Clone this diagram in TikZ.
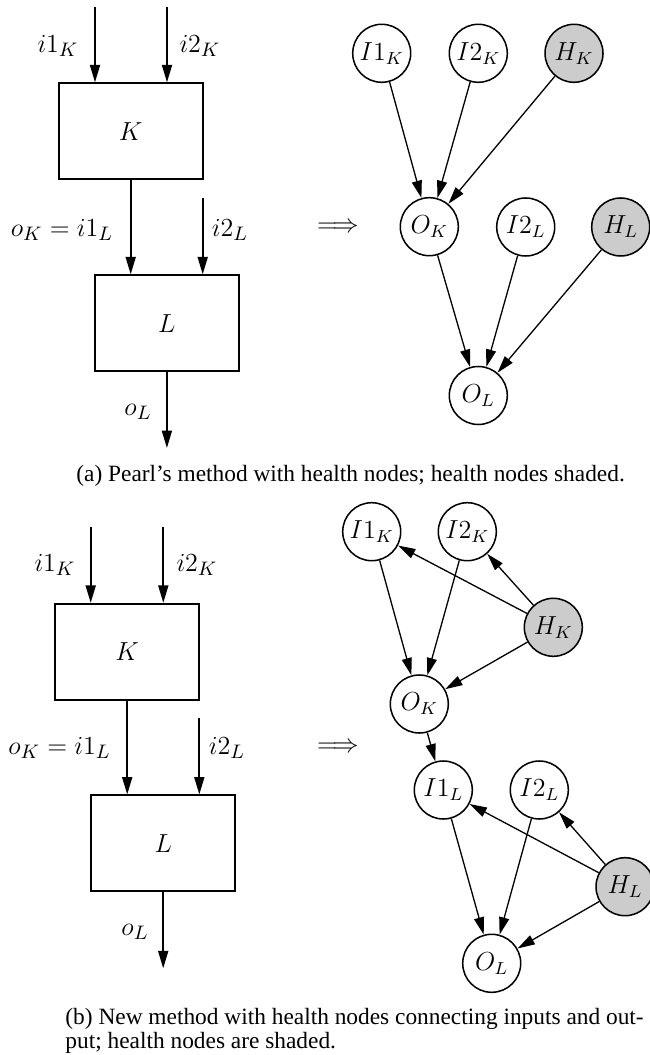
\documentclass[tikz,border=0pt]{standalone}
\usepackage{fontspec}
\setmainfont{Liberation Serif}
\usetikzlibrary{arrows.meta}
\def\px{0.46pt}
\tikzset{
  x=0.46pt, y=-0.46pt,
  tip/.tip={Triangle[length=8pt,width=4.6pt]},
  flow/.style={line width=0.8pt,-tip},
  edge/.style={line width=0.6pt,-tip},
  block/.style={draw,line width=0.8pt,minimum width=144*\px,minimum height=96*\px,inner sep=0pt,font=\fontsize{12}{14}\selectfont},
  var/.style={circle,draw,line width=0.7pt,minimum size=58*\px,inner sep=0pt,fill=white,font=\fontsize{12}{14}\selectfont},
  health/.style={var,fill=gray!40},
  lbl/.style={inner sep=0pt,font=\fontsize{12.5}{14}\selectfont},
  impl/.style={inner sep=0pt,font=\fontsize{11.5}{14}\selectfont},
  captext/.style={inner sep=0pt,anchor=base west,font=\fontsize{10.75}{12}\selectfont}
}
\begin{document}
\begin{tikzpicture}
\useasboundingbox (0,0) rectangle (649,1055);

% ---------- (a) block diagram ----------
\node[block] (aK) at (130.7,131.2) {$K$};
\node[block] (aL) at (166.9,323.2) {$L$};
\coordinate (aIn1) at (95,7);
\coordinate (aIn2) at (167,7);
\coordinate (aIn2L) at (202.7,198);
\coordinate (aOut) at (166.9,448);
\draw[flow] (aIn1) -- (aIn1 |- aK.north);
\draw[flow] (aIn2) -- (aIn2 |- aK.north);
\draw[flow] (aK.south) -- (aK.south |- aL.north);
\draw[flow] (aIn2L) -- (aIn2L |- aL.north);
\draw[flow] (aL.south) -- (aOut);
\node[lbl] (aLi1K) at (58,46) {$i1_K$};
\node[lbl] (aLi2K) at (200,46) {$i2_K$};
\node[lbl] (aLoK) at (62,230) {$o_K = i1_L$};
\node[lbl] (aLi2L) at (230,230) {$i2_L$};
\node[lbl] (aLoL) at (138,412) {$o_L$};
\node[impl] (aImp) at (338,228) {$\Longrightarrow$};

% ---------- (a) network ----------
\node[var] (aI1K) at (381.7,53.3) {$I1_K$};
\node[var] (aI2K) at (478.3,53.3) {$I2_K$};
\node[health] (aHK) at (574,53.3) {$H_K$};
\node[var] (aOK) at (429.3,226.7) {$O_K$};
\node[var] (aI2L) at (525.7,227) {$I2_L$};
\node[health] (aHL) at (620.7,227) {$H_L$};
\node[var] (aOL) at (478.3,395.5) {$O_L$};
\draw[edge] (aI1K) -- (aOK);
\draw[edge] (aI2K) -- (aOK);
\draw[edge] (aHK) -- (aOK);
\draw[edge] (aOK) -- (aOL);
\draw[edge] (aI2L) -- (aOL);
\draw[edge] (aHL) -- (aOL);

\node[captext] (capA) at (76,481.5) {(a) Pearl's method with health nodes; health nodes shaded.};

% ---------- (b) block diagram ----------
\node[block] (bK) at (127.2,651.7) {$K$};
\node[block] (bL) at (163.2,843.3) {$L$};
\coordinate (bIn1) at (90.7,526.7);
\coordinate (bIn2) at (163.3,526.7);
\coordinate (bIn2L) at (199.3,718.3);
\coordinate (bOut) at (163.2,968.3);
\draw[flow] (bIn1) -- (bIn1 |- bK.north);
\draw[flow] (bIn2) -- (bIn2 |- bK.north);
\draw[flow] (bK.south) -- (bK.south |- bL.north);
\draw[flow] (bIn2L) -- (bIn2L |- bL.north);
\draw[flow] (bL.south) -- (bOut);
\node[lbl] (bLi1K) at (55,565) {$i1_K$};
\node[lbl] (bLi2K) at (197,565) {$i2_K$};
\node[lbl] (bLoK) at (59.5,748) {$o_K = i1_L$};
\node[lbl] (bLi2L) at (227,748) {$i2_L$};
\node[lbl] (bLoL) at (135,931.7) {$o_L$};
\node[impl] (bImp) at (338,748) {$\Longrightarrow$};

% ---------- (b) network ----------
\node[var] (bI1K) at (371.7,531.7) {$I1_K$};
\node[var] (bI2K) at (467.3,531.7) {$I2_K$};
\node[health] (bHK) at (553.3,627.3) {$H_K$};
\node[var] (bOK) at (419.3,704) {$O_K$};
\node[var] (bI1L) at (443.3,790) {$I1_L$};
\node[var] (bI2L) at (539.3,790) {$I2_L$};
\node[health] (bHL) at (625,886.7) {$H_L$};
\node[var] (bOL) at (491.7,963.3) {$O_L$};
\draw[edge] (bI1K) -- (bOK);
\draw[edge] (bI2K) -- (bOK);
\draw[edge] (bHK) -- (bI1K);
\draw[edge] (bHK) -- (bI2K);
\draw[edge] (bHK) -- (bOK);
\draw[edge] (bOK) -- (bI1L);
\draw[edge] (bI1L) -- (bOL);
\draw[edge] (bI2L) -- (bOL);
\draw[edge] (bHL) -- (bI1L);
\draw[edge] (bHL) -- (bI2L);
\draw[edge] (bHL) -- (bOL);

\node[captext] (capB1) at (65,1024.3) {(b) New method with health nodes connecting inputs and out-};
\node[captext] (capB2) at (65,1048.3) {put; health nodes are shaded.};
\end{tikzpicture}
\end{document}
